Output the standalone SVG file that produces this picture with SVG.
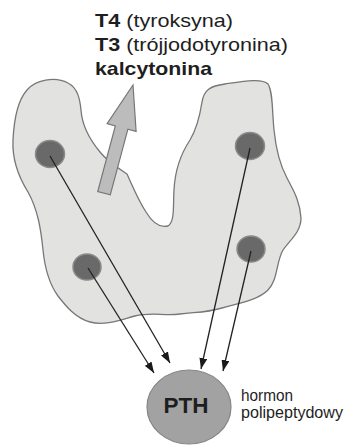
<svg xmlns="http://www.w3.org/2000/svg" width="344" height="445" viewBox="0 0 344 445">
  <style>
    .lbl { font-family: "Liberation Sans", Arial, sans-serif; fill: #1e1e1e; }
    .b { font-weight: bold; }
    .gland { fill: #e2e2e0; stroke: #777; stroke-width: 1.3; }
    .nod { fill: #696969; stroke: #8a8a8a; stroke-width: 1.5; }
    .link { stroke: #222; stroke-width: 1.3; fill: none; marker-end: url(#tip); }
  </style>
  <defs>
    <marker id="tip" markerUnits="userSpaceOnUse" markerWidth="11" markerHeight="8" refX="11" refY="4" orient="auto">
      <path d="M0,0 L11,4 L0,8 Z" fill="#1a1a1a"/>
    </marker>
  </defs>
  <rect width="344" height="445" fill="#fff"/>

  <!-- thyroid gland outline -->
  <g id="gland">
    <path class="gland" d="M27,90 C35,80 55,76 68,83 C78,88 80,100 81,110 C82,125 90,140 100,152 C108,162 118,168 127,174 C132,185 138,200 146,212 C152,222 160,228 168,226 C175,222 173,205 174,190 C175,170 180,155 190,140 C196,130 200,115 202,102 C204,90 210,86 225,84 C245,81 262,78 268,84 C273,92 272,110 274,130 C276,150 280,165 287,178 C292,188 300,200 301,218 C301,232 290,240 283,250 C276,262 278,280 268,290 C258,300 240,303 222,308 C205,313 195,312 180,314 C165,316 150,312 135,316 C120,320 105,326 90,322 C75,318 65,305 58,296 C50,285 45,270 43,250 C41,230 38,210 28,192 C18,176 12,160 13,140 C14,120 18,100 27,90 Z"/>
  </g>

  <!-- secretion arrow -->
  <g id="secretion-arrow">
    <path transform="translate(133,85) rotate(15)" d="M0,0 L15,44 L6.5,44 L6.5,112 L-6.5,112 L-6.5,44 L-15,44 Z" fill="#bcbcbc" stroke="#777" stroke-width="1.2" stroke-linejoin="miter"/>
  </g>

  <!-- nodules -->
  <g id="nodule-1"><ellipse class="nod" cx="50" cy="154" rx="14.5" ry="13.5"/></g>
  <g id="nodule-2"><ellipse class="nod" cx="87" cy="267" rx="14" ry="13"/></g>
  <g id="nodule-3"><ellipse class="nod" cx="250" cy="146" rx="14.5" ry="13.5"/></g>
  <g id="nodule-4"><ellipse class="nod" cx="251" cy="249" rx="14" ry="13"/></g>

  <!-- connectors -->
  <g id="connectors">
    <line class="link" x1="50" y1="156" x2="170" y2="363"/>
    <line class="link" x1="88" y1="268" x2="154" y2="373"/>
    <line class="link" x1="250" y1="148" x2="201" y2="369"/>
    <line class="link" x1="251" y1="251" x2="223" y2="371"/>
  </g>

  <!-- parathyroid hormone -->
  <g id="pth">
    <ellipse cx="189" cy="407" rx="42" ry="37" fill="#a2a2a2" stroke="#868686" stroke-width="1.2"/>
    <text class="lbl b" x="163.5" y="412.5" font-size="21.5" textLength="45" lengthAdjust="spacingAndGlyphs">PTH</text>
  </g>

  <g id="pth-label">
    <text class="lbl" x="241" y="401" font-size="16" textLength="52" lengthAdjust="spacingAndGlyphs">hormon</text>
    <text class="lbl" x="241" y="418" font-size="16" textLength="102" lengthAdjust="spacingAndGlyphs">polipeptydowy</text>
  </g>

  <!-- thyroid hormones -->
  <g id="hormones">
    <text class="lbl" x="95" y="27" font-size="18.5" textLength="138" lengthAdjust="spacingAndGlyphs"><tspan class="b">T4</tspan> (tyroksyna)</text>
    <text class="lbl" x="95" y="51" font-size="18.5" textLength="193" lengthAdjust="spacingAndGlyphs"><tspan class="b">T3</tspan> (trójjodotyronina)</text>
    <text class="lbl b" x="95" y="75" font-size="18.5" textLength="117" lengthAdjust="spacingAndGlyphs">kalcytonina</text>
  </g>
</svg>
